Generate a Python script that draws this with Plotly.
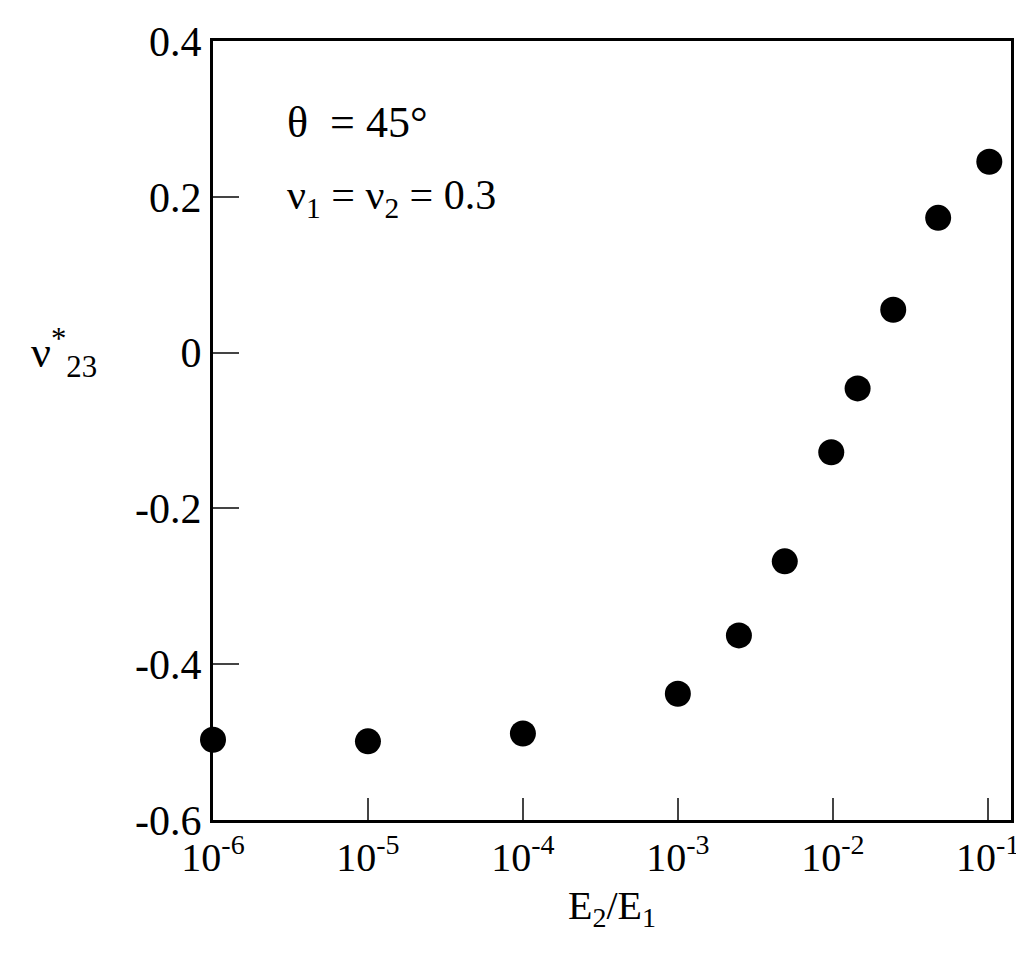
import plotly.graph_objects as go

x_vals = [1e-6, 1e-5, 1e-4, 1e-3, 10**-2.606, 10**-2.31, 10**-2.01, 10**-1.84, 10**-1.61, 10**-1.32, 10**-0.99]
y_vals = [-0.497, -0.499, -0.489, -0.438, -0.363, -0.268, -0.128, -0.046, 0.055, 0.173, 0.245]
x_ticks = [1e-6, 1e-5, 1e-4, 1e-3, 1e-2, 1e-1]
x_ticktext = ["10<sup>-6</sup>", "10<sup>-5</sup>", "10<sup>-4</sup>", "10<sup>-3</sup>", "10<sup>-2</sup>", "10<sup>-1</sup>"]
y_ticks = [-0.6, -0.4, -0.2, 0, 0.2, 0.4]
y_ticktext = ["-0.6", "-0.4", "-0.2", "0", "0.2", "0.4"]

font = "Liberation Serif, Times New Roman, serif"
fig = go.Figure(go.Scatter(x=x_vals, y=y_vals, mode="markers",
                           marker=dict(size=26, color="black"), cliponaxis=False))
fig.update_layout(
    width=1024, height=969, paper_bgcolor="white", plot_bgcolor="white",
    margin=dict(l=205, r=21, t=33, b=157, autoexpand=False), showlegend=False,
    font=dict(family=font, size=40, color="black"),
    xaxis=dict(type="log", range=[-6, -0.85], tickvals=x_ticks, ticktext=x_ticktext,
               tickfont=dict(size=40), automargin=False,
               ticks="inside", ticklen=22, tickwidth=2, showgrid=False, zeroline=False,
               showline=True, linewidth=3, linecolor="black", mirror=True,
               title=dict(text="E<sub>2</sub>/E<sub>1</sub>", standoff=12, font=dict(size=40))),
    yaxis=dict(range=[-0.6, 0.4], tickvals=y_ticks, ticktext=y_ticktext,
               tickfont=dict(size=42), automargin=False,
               ticks="inside", ticklen=26, tickwidth=2, showgrid=False, zeroline=False,
               showline=True, linewidth=3, linecolor="black", mirror=True),
    annotations=[
        dict(x=0.09, y=0.93, xref="paper", yref="paper", xanchor="left", showarrow=False,
             text="θ  = 45°", font=dict(size=44)),
        dict(x=0.09, y=0.835, xref="paper", yref="paper", xanchor="left", showarrow=False,
             text="ν<sub>1</sub> = ν<sub>2</sub> = 0.3", font=dict(size=42)),
        dict(x=-0.23, y=0.0, xref="paper", yref="y", xanchor="left", showarrow=False,
             text="ν<sup>*</sup><sub>23</sub>", font=dict(size=44)),
    ],
)
fig.write_html("out.html")
